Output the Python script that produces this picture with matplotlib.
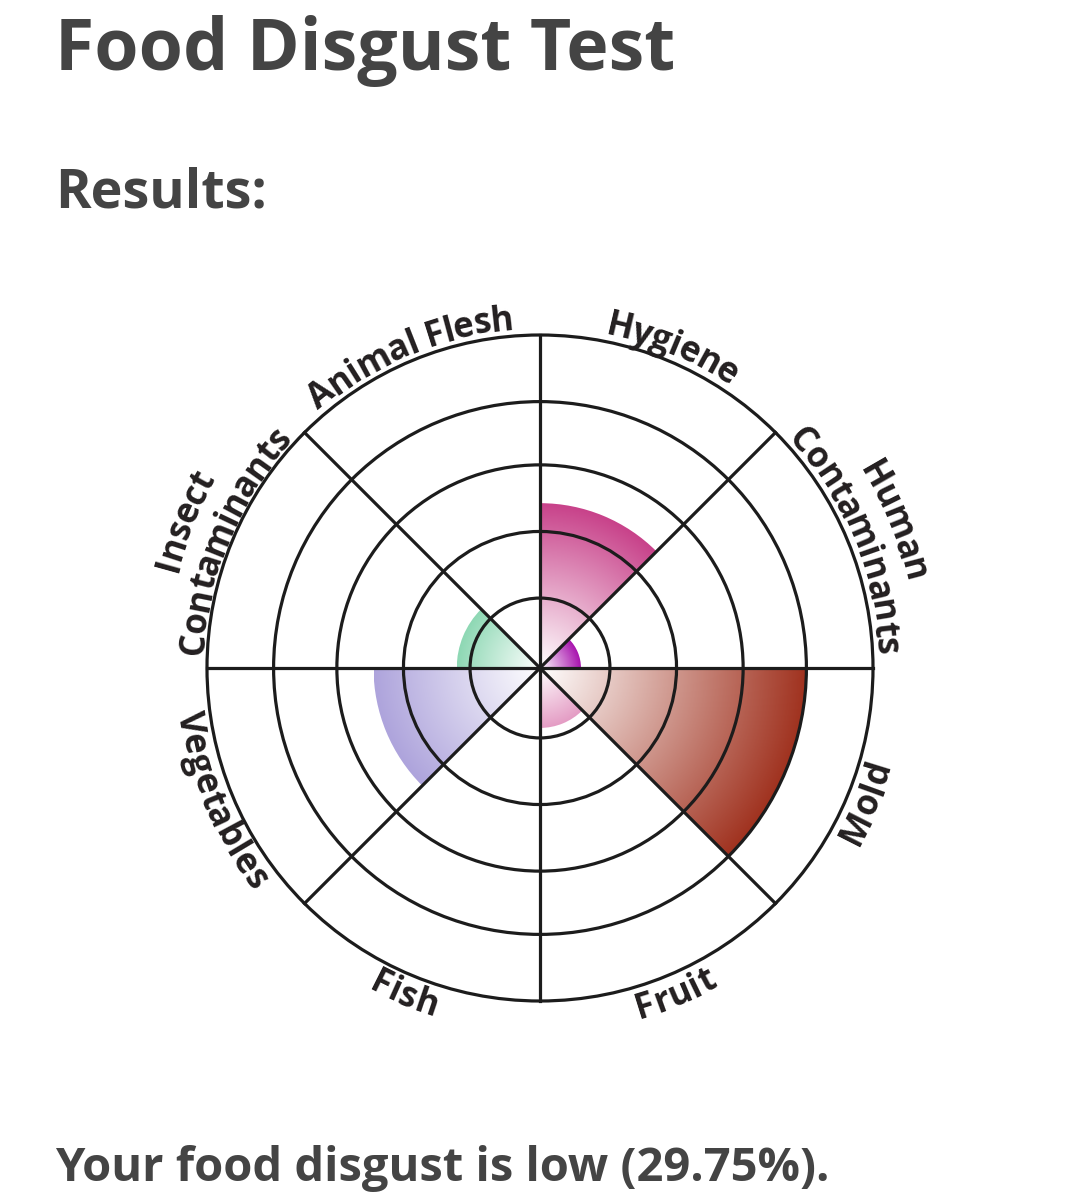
import matplotlib.pyplot as plt
import numpy as np
from matplotlib.patches import Wedge, Circle
from matplotlib.colors import LinearSegmentedColormap
from matplotlib.font_manager import FontProperties, findfont, get_font

# chart data (scores in % of the outer ring)
categories = ["Hygiene", "Human\nContaminants", "Mold", "Fruit", "Fish",
              "Vegetables", "Insect\nContaminants", "Animal Flesh"]
scores = [49.5, 12.3, 80.0, 18.0, 0.0, 50.0, 25.0, 0.0]
colors = ["#c8428a", "#a814ae", "#a0321f", "#e49cc4", "#d9a0c0",
          "#aea4dc", "#8ed8b4", "#d98c8c"]
ring_levels = [21, 41, 61, 80, 100]

title = "Food Disgust Test"
subtitle = "Results:"
summary = "Your food disgust is low (29.75%)."

FONT = "Open Sans"
W, H = 1076, 1200

plt.close()
fig = plt.figure(figsize=(W / 100, H / 100), dpi=100)
ax = fig.add_axes([0, 0, 1, 1])
ax.set_xlim(0, W)
ax.set_ylim(0, H)
ax.axis("off")

cx, cy = 540, H - 668   # centre of the wheel, pixel units
R = 333                # outer ring radius
n = len(categories)
step = 360 / n

# gradient wedges: white at the centre -> colour at the wedge edge
g = np.linspace(-1, 1, 500)
gx, gy = np.meshgrid(g, g)
dist = np.clip(np.sqrt(gx ** 2 + gy ** 2), 0, 1)
for i, (val, col) in enumerate(zip(scores, colors)):
    if val <= 0:
        continue
    rv = R * val / 100
    a0, a1 = i * step, (i + 1) * step
    cmap = LinearSegmentedColormap.from_list("c%d" % i, ["#ffffff", col])
    im = ax.imshow(dist, extent=[cx - rv, cx + rv, cy - rv, cy + rv], origin="lower",
                   cmap=cmap, vmin=0, vmax=1, interpolation="bilinear", zorder=1)
    wedge = Wedge((cx, cy), rv, 90 - a1, 90 - a0, transform=ax.transData)
    im.set_clip_path(wedge)

# grid: rings and spokes
for lv in ring_levels:
    ax.add_patch(Circle((cx, cy), R * lv / 100, fill=False, ec="#1c1c1c", lw=2.3, zorder=3))
for i in range(n // 2):
    a = np.radians(i * step)
    ax.plot([cx - R * np.sin(a), cx + R * np.sin(a)],
            [cy - R * np.cos(a), cy + R * np.cos(a)], color="#1c1c1c", lw=2.3, zorder=3)

ax.set_xlim(0, W)
ax.set_ylim(0, H)
ax.set_aspect("auto")

# curved labels
lab_pt = 25
fp = FontProperties(family=FONT, weight="bold", size=lab_pt)
font = get_font(findfont(fp))
font.set_size(lab_pt, 100)
cap = 0.714 * lab_pt * 100 / 72


def adv(ch):
    glyph = font.load_char(ord(ch))
    return glyph.linearHoriAdvance / 65536


def curved(s, mid, rt):
    widths = [adv(ch) for ch in s]
    total = sum(widths)
    flip = 90 < mid < 270
    pos = 0
    for ch, w in zip(s, widths):
        off = pos + w / 2 - total / 2
        pos += w
        if ch == " ":
            continue
        dang = np.degrees(off / rt)
        if flip:
            a = mid - dang
            rot = 180 - a
            rb = rt + cap / 2
        else:
            a = mid + dang
            rot = -a
            rb = rt - cap / 2
        ar = np.radians(a)
        ax.text(cx + rb * np.sin(ar), cy + rb * np.cos(ar), ch, rotation=rot,
                rotation_mode="anchor", ha="center", va="baseline",
                fontproperties=fp, color="#231f20", zorder=4)


for i, name in enumerate(categories):
    mid = (i + 0.5) * step
    lines = name.split("\n")
    if len(lines) == 1:
        curved(lines[0], mid, 352)
    else:
        curved(lines[0], mid, 388)
        curved(lines[1], mid, 349)

# header texts, sized to the widths in the reference
renderer = fig.canvas.get_renderer()


def fit_text(s, x, y_top, width, size):
    t = fig.text(x / W, 1 - y_top / H, s, fontsize=size, family=FONT, weight="bold",
                 color="#444444", ha="left", va="baseline")
    bb = t.get_window_extent(renderer)
    t.set_fontsize(size * width / bb.width)
    return t


fit_text(title, 55, 70, 620, 52)
fit_text(subtitle, 55, 208, 212, 41)
fit_text(summary, 55, 1181, 775, 38)

plt.savefig("out.png", dpi=100)
